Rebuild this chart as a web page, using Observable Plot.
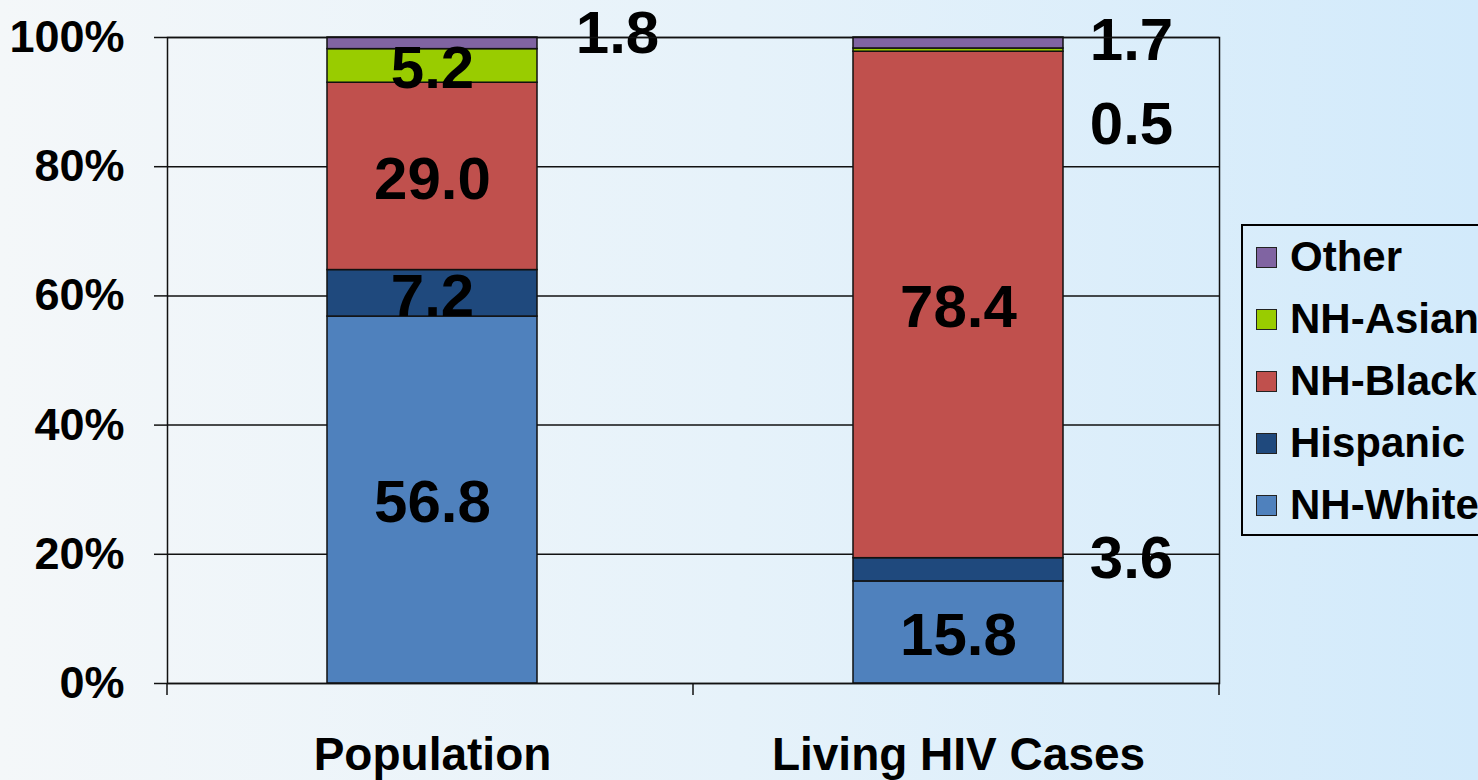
<!DOCTYPE html>
<html>
<head>
<meta charset="utf-8">
<script src="https://cdn.jsdelivr.net/npm/d3@7"></script>
<script src="https://cdn.jsdelivr.net/npm/@observablehq/plot@0.6"></script>
<style>
  html, body { margin: 0; padding: 0; width: 1478px; height: 780px; overflow: hidden; }
  body {
    background: linear-gradient(to right, #f4f7f9 0%, #e6f2fa 50%, #d2eafb 100%);
    font-family: "Liberation Sans", Arial, sans-serif;
    position: relative;
  }
  #chart { position: absolute; left: 0; top: 0; }
  #legend {
    position: absolute; left: 1241px; top: 224px; width: 260px; height: 308px;
    border: 2px solid #000; box-sizing: content-box;
  }
  .row { position: absolute; left: 0; height: 62px; display: flex; align-items: center; }
  .sw { width: 19px; height: 19px; border: 1.5px solid #222; margin-left: 13px; margin-right: 13px; }
  .lab { font-size: 42px; font-weight: bold; color: #000; line-height: 62px; white-space: nowrap; }
</style>
</head>
<body>
<div id="chart"></div>
<div id="legend"></div>
<script>
const categories = ["Population", "Living HIV Cases"];
const groups = ["NH-White", "Hispanic", "NH-Black", "NH-Asian", "Other"];
const population = [56.8, 7.2, 29.0, 5.2, 1.8];
const livingHIV = [15.8, 3.6, 78.4, 0.5, 1.7];
const colors = ["#4F81BD", "#1F497D", "#C0504D", "#99CC00", "#8064A2"];
const yTicks = [0, 20, 40, 60, 80, 100];
const legendOrder = ["Other", "NH-Asian", "NH-Black", "Hispanic", "NH-White"];
// labels drawn outside the bars, with their offsets
const outside = [
  {category: "Population", group: "Other", dx: 187, dy: -10},
  {category: "Living HIV Cases", group: "Other", dx: 175, dy: -2},
  {category: "Living HIV Cases", group: "NH-Asian", dx: 175, dy: 75},
  {category: "Living HIV Cases", group: "Hispanic", dx: 175, dy: -11}
];

const series = [population, livingHIV];
const data = [];
categories.forEach((c, i) => groups.forEach((g, j) => data.push({category: c, group: g, value: series[i][j]})));

const font = "Liberation Sans, Arial, sans-serif";
const isOutside = d => outside.some(o => o.category === d.category && o.group === d.group);

const marks = [
  Plot.gridY(yTicks, {stroke: "#111", strokeOpacity: 1, strokeWidth: 1.5}),
  Plot.barY(data, {x: "category", y: "value", fill: "group", stroke: "#111", strokeWidth: 1.5, dx: 2}),
  Plot.text(data, Plot.filter(d => !isOutside(d), Plot.stackY({
    x: "category", y: "value", text: d => d.value.toFixed(1), dx: 2, dy: 3,
    fontSize: 60, fontWeight: "bold", fontFamily: font, fill: "#000"
  }))),
  ...outside.map(o => Plot.text(data, Plot.filter(d => d.category === o.category && d.group === o.group, Plot.stackY({
    x: "category", y: "value", text: d => d.value.toFixed(1), dx: o.dx, dy: o.dy,
    fontSize: 60, fontWeight: "bold", fontFamily: font, fill: "#000"
  })))),
  Plot.frame({stroke: "#111", strokeWidth: 1.5}),
  Plot.axisY({ticks: yTicks, tickFormat: d => d + "%", tickSize: 13, tickPadding: 30,
    fontSize: 45, fontWeight: "bold", fontFamily: font, fill: "#000", stroke: "#111", strokeWidth: 1.5}),
  Plot.axisX({tickSize: 0, tickPadding: 54, dx: 2, fontSize: 46, fontWeight: "bold", fontFamily: font, fill: "#000"})
];

const plot = Plot.plot({
  width: 1478, height: 780,
  marginLeft: 167, marginRight: 259, marginTop: 37, marginBottom: 97,
  style: {background: "transparent", fontFamily: font, overflow: "visible"},
  x: {domain: categories, paddingInner: 0.6, paddingOuter: 0.3, label: null},
  y: {domain: [0, 100], label: null},
  color: {domain: groups, range: colors},
  marks
});
document.getElementById("chart").appendChild(plot);

// boundary tick marks below the category axis, from the band scale
const xs = plot.scale("x");
const ys = plot.scale("y");
const y0 = ys.apply(0);
const gap = (xs.step - xs.bandwidth) / 2;
const bounds = [xs.range[0], ...categories.slice(1).map(c => xs.apply(c) - gap), xs.range[1]];
const g = d3.select(plot).append("g");
bounds.forEach(x => g.append("line").attr("x1", x).attr("x2", x).attr("y1", y0).attr("y2", y0 + 12)
  .attr("stroke", "#111").attr("stroke-width", 1.5));

// legend
const leg = document.getElementById("legend");
legendOrder.forEach((name, i) => {
  const row = document.createElement("div");
  row.className = "row";
  row.style.top = (i * 62) + "px";
  const sw = document.createElement("div");
  sw.className = "sw";
  sw.style.background = colors[groups.indexOf(name)];
  const lab = document.createElement("div");
  lab.className = "lab";
  lab.textContent = name;
  row.appendChild(sw); row.appendChild(lab);
  leg.appendChild(row);
});
</script>
</body>
</html>
